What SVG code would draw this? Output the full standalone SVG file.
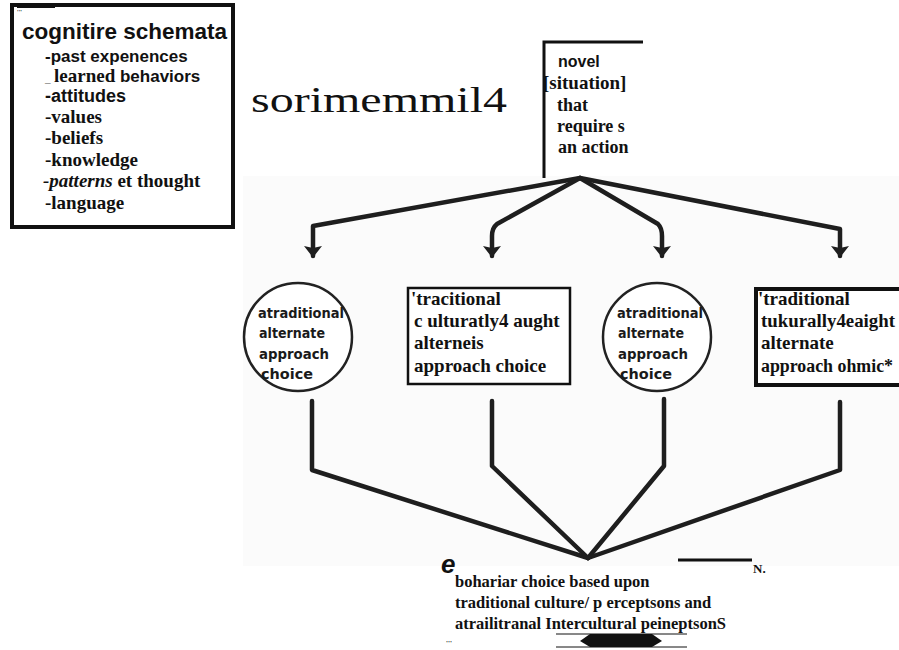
<svg xmlns="http://www.w3.org/2000/svg" width="899" height="650" viewBox="0 0 899 650">
<style>
.sans{font-family:"Liberation Sans",Arial,sans-serif;font-weight:bold;fill:#111}
.serif{font-family:"Liberation Serif","Times New Roman",serif;font-weight:bold;fill:#111}
.rnd{font-family:"DejaVu Sans","Liberation Sans",sans-serif;font-weight:bold;fill:#1a1a1a;font-size:14px}
.box{fill:none;stroke:#111;stroke-width:3}
.conn{fill:none;stroke:#1e1e1e;stroke-width:4.5;stroke-linejoin:round;stroke-linecap:round}
.circ{fill:#fff;stroke:#222;stroke-width:2.5}
</style>
<defs>
<marker id="ah" markerUnits="userSpaceOnUse" markerWidth="20" markerHeight="15" refX="10" refY="13" orient="0" viewBox="0 0 20 15">
<path d="M1,3 L10,5 L19,3 L10,14.5 Z" fill="#1e1e1e"/>
</marker>
</defs>
<rect width="899" height="650" fill="#fff"/>
<rect x="243" y="176" width="656" height="390" fill="#fbfbfb"/>

<g id="schemata">
<rect x="12" y="5" width="221" height="222" fill="#fff" stroke="#111" stroke-width="4"/>
<line x1="17" y1="7" x2="55" y2="7" stroke="#111" stroke-width="2"/>
<text x="17" y="14" class="serif" font-size="6">'''</text>
<text x="22" y="39" class="sans" font-size="22.5">cognitire schemata</text>
<text x="45" y="62" class="sans" font-size="17">-past expenences</text>
<text x="45" y="82" class="sans" font-size="10">_</text>
<text x="54" y="82" class="serif" font-size="19">learned <tspan class="sans" font-size="17">behaviors</tspan></text>
<text x="45" y="102" class="sans" font-size="18">-attitudes</text>
<text x="45" y="123" class="serif" font-size="19">-values</text>
<text x="45" y="144" class="serif" font-size="19">-beliefs</text>
<text x="45" y="166" class="serif" font-size="19">-knowledge</text>
<text x="43" y="187" class="serif" font-size="19"><tspan font-style="italic">-patterns</tspan>  et thought</text>
<text x="45" y="209" class="serif" font-size="19">-language</text>
</g>

<g id="title">
<text x="251" y="112" font-family="Liberation Serif,'Times New Roman',serif" font-size="36" fill="#111" textLength="256" lengthAdjust="spacingAndGlyphs">sorimemmil4</text>
</g>

<g id="situation">
<path d="M544,178 L544,42 L643,42" class="box"/>
<text x="558" y="67" class="sans" font-size="16">novel</text>
<text x="543" y="89" class="serif" font-size="19">[situation]</text>
<text x="557" y="111" class="serif" font-size="18">that</text>
<text x="557" y="132" class="serif" font-size="18">require s</text>
<text x="558" y="153" class="serif" font-size="18">an action</text>
</g>

<g id="connectors">
<path class="conn" d="M580,178 L313,226 L313,256" marker-end="url(#ah)"/>
<path class="conn" d="M580,178 L497,224 Q492,228 492,236 L492,256" marker-end="url(#ah)"/>
<path class="conn" d="M580,178 L658,224 Q662,228 662,236 L662,256" marker-end="url(#ah)"/>
<path class="conn" d="M580,178 L840,229 L840,256" marker-end="url(#ah)"/>
<path class="conn" d="M312,401 L312,470 L588,558"/>
<path class="conn" d="M492,401 L492,466 L588,558"/>
<path class="conn" d="M664,399 L664,466 L588,558"/>
<path class="conn" d="M840,402 L840,470 L588,558"/>
</g>

<g id="choice1">
<circle cx="298" cy="337" r="54" class="circ"/>
<text x="258" y="318" class="rnd" textLength="86" lengthAdjust="spacingAndGlyphs">atraditional</text>
<text x="259" y="338" class="rnd" textLength="66" lengthAdjust="spacingAndGlyphs">alternate</text>
<text x="259" y="359" class="rnd" textLength="70" lengthAdjust="spacingAndGlyphs">approach</text>
<text x="261" y="379" class="rnd" textLength="52" lengthAdjust="spacingAndGlyphs">choice</text>
</g>

<g id="choice2">
<rect x="408" y="288" width="162" height="96" fill="#fff" stroke="#111" stroke-width="2.5"/>
<text x="411" y="305" class="serif" font-size="19">'tracitional</text>
<text x="414" y="327" class="serif" font-size="19">c ulturatly4 aught</text>
<text x="414" y="349" class="serif" font-size="19">alterneis</text>
<text x="414" y="372" class="serif" font-size="19">approach choice</text>
</g>

<g id="choice3">
<circle cx="657" cy="337" r="54" class="circ"/>
<text x="617" y="318" class="rnd" textLength="86" lengthAdjust="spacingAndGlyphs">atraditional</text>
<text x="618" y="338" class="rnd" textLength="66" lengthAdjust="spacingAndGlyphs">alternate</text>
<text x="618" y="359" class="rnd" textLength="70" lengthAdjust="spacingAndGlyphs">approach</text>
<text x="620" y="379" class="rnd" textLength="52" lengthAdjust="spacingAndGlyphs">choice</text>
</g>

<g id="choice4">
<rect x="756" y="289" width="150" height="96" fill="#fff" stroke="#111" stroke-width="4"/>
<text x="758" y="305" class="serif" font-size="19">'traditional</text>
<text x="761" y="327" class="serif" font-size="18.5" textLength="134" lengthAdjust="spacingAndGlyphs">tukurally4eaight</text>
<text x="761" y="349" class="serif" font-size="19">alternate</text>
<text x="761" y="372" class="serif" font-size="18" textLength="132" lengthAdjust="spacingAndGlyphs">approach ohmic*</text>
</g>

<g id="result">
<line x1="678" y1="560" x2="752" y2="560" stroke="#111" stroke-width="3"/>
<text x="753" y="573" class="serif" font-size="13">N.</text>
<text x="441" y="573" class="sans" font-size="26" font-style="italic">e</text>
<text x="455" y="587" class="serif" font-size="16.5">bohariar choice based upon</text>
<text x="455" y="608" class="serif" font-size="16.5">traditional culture/ p erceptsons and</text>
<text x="455" y="629" class="serif" font-size="16.5">atrailitranal Intercultural peineptsonS</text>
<text x="446" y="645" class="serif" font-size="7">'''</text>
<line x1="556" y1="634" x2="687" y2="634" stroke="#111" stroke-width="1"/>
<line x1="556" y1="647" x2="687" y2="647" stroke="#111" stroke-width="1"/>
<path d="M580,641 L590,634 L652,634 L662,641 L652,647 L590,647 Z" fill="#111"/>
</g>
</svg>
